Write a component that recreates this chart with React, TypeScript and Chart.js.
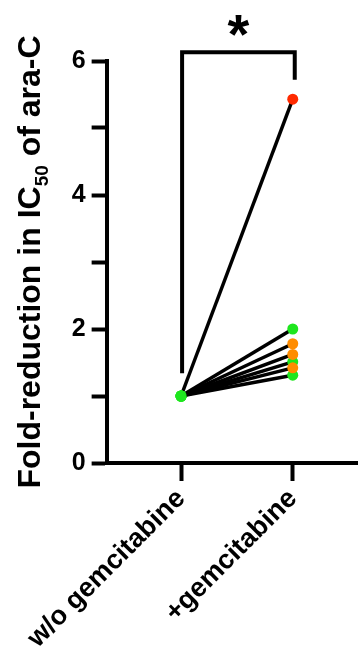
import React, { useEffect, useRef } from 'react';
import { Chart, registerables } from 'chart.js';

Chart.register(...registerables);

// ---- data ----
const categories = ['w/o gemcitabine', '+gemcitabine'];
const categoryX = [0, 1];
const withoutGem = [1, 1, 1, 1, 1, 1, 1];
const withGem = [1.42, 1.62, 1.78, 1.51, 1.31, 2.0, 5.43];
const endColors = ['#ff8c00', '#ff8c00', '#ff8c00', '#1ee61e', '#1ee61e', '#1ee61e', '#ff2a00'];
const startColor = '#1ee61e';
const yTicks = [0, 1, 2, 3, 4, 5, 6];
const yTitleParts = ['Fold-reduction in IC', '50', ' of ara-C'];
const sigLabel = '*';
const bracketTop = 6.13;
const bracketLeftBottom = 1.34;
const bracketRightBottom = 5.72;
const starBaseline = 6.12;

const FONT = '"Liberation Sans", Arial, sans-serif';

const overlayPlugin = {
  id: 'overlay',
  afterDraw(chart: any) {
    const { ctx, scales, chartArea } = chart;
    const xs = scales.x;
    const ys = scales.y;
    ctx.save();
    // bracket
    const xl = xs.getPixelForValue(categoryX[0]) + 1;
    const xr = xs.getPixelForValue(categoryX[1]) + 2;
    const yt = ys.getPixelForValue(bracketTop);
    ctx.strokeStyle = '#000';
    ctx.lineWidth = 4;
    ctx.lineCap = 'butt';
    ctx.lineJoin = 'miter';
    ctx.beginPath();
    ctx.moveTo(xl, ys.getPixelForValue(bracketLeftBottom));
    ctx.lineTo(xl, yt);
    ctx.lineTo(xr, yt);
    ctx.lineTo(xr, ys.getPixelForValue(bracketRightBottom));
    ctx.stroke();
    // asterisk
    ctx.fillStyle = '#000';
    ctx.font = `bold 56px ${FONT}`;
    ctx.textAlign = 'center';
    ctx.textBaseline = 'alphabetic';
    ctx.fillText(sigLabel, (xl + xr) / 2, ys.getPixelForValue(starBaseline));
    // y title
    const cy = (chartArea.top + chartArea.bottom) / 2;
    ctx.translate(40, cy);
    ctx.rotate(-Math.PI / 2);
    ctx.textAlign = 'left';
    const mainFont = `bold 32px ${FONT}`;
    const subFont = `bold 19px ${FONT}`;
    ctx.font = mainFont;
    const w1 = ctx.measureText(yTitleParts[0]).width;
    const w3 = ctx.measureText(yTitleParts[2]).width;
    ctx.font = subFont;
    const w2 = ctx.measureText(yTitleParts[1]).width;
    let x = -(w1 + w2 + w3) / 2;
    ctx.font = mainFont;
    ctx.fillText(yTitleParts[0], x, 0);
    x += w1;
    ctx.font = subFont;
    ctx.fillText(yTitleParts[1], x, 8);
    x += w2;
    ctx.font = mainFont;
    ctx.fillText(yTitleParts[2], x, 0);
    ctx.restore();
  },
};

export default function App() {
  const ref = useRef<HTMLCanvasElement | null>(null);
  useEffect(() => {
    if (!ref.current) return;
    const datasets = withGem.map((v, i) => ({
      data: [
        { x: categoryX[0], y: withoutGem[i] },
        { x: categoryX[1], y: v },
      ],
      showLine: true,
      borderColor: '#000',
      borderWidth: 3.5,
      pointRadius: 5.5,
      pointBorderWidth: 0,
      pointBackgroundColor: [startColor, endColors[i]],
      pointBorderColor: [startColor, endColors[i]],
    }));
    const chart = new Chart(ref.current, {
      type: 'scatter',
      data: { datasets },
      options: {
        animation: false,
        responsive: false,
        maintainAspectRatio: false,
        layout: { padding: { top: 61, right: -4, left: 0, bottom: 0 } },
        plugins: { legend: { display: false }, tooltip: { enabled: false } },
        scales: {
          x: {
            type: 'linear',
            min: -0.667,
            max: 1.58,
            afterBuildTicks: (s: any) => {
              s.ticks = categoryX.map((v) => ({ value: v }));
            },
            afterFit: (s: any) => {
              s.height = 196;
            },
            ticks: {
              autoSkip: false,
              minRotation: 45,
              maxRotation: 45,
              padding: 2,
              color: '#000',
              font: { family: FONT, size: 27, weight: 'bold' },
              callback: (v: any) => categories[categoryX.indexOf(Number(v))] ?? '',
            },
            grid: { drawOnChartArea: false, drawTicks: true, tickLength: 18, tickWidth: 4, tickColor: '#000' },
            border: { display: true, color: '#000', width: 4 },
          },
          y: {
            type: 'linear',
            min: 0,
            max: 6,
            afterBuildTicks: (s: any) => {
              s.ticks = yTicks.map((v) => ({ value: v }));
            },
            afterFit: (s: any) => {
              s.width = 103;
            },
            ticks: {
              padding: 6,
              color: '#000',
              font: { family: FONT, size: 25, weight: 'bold' },
              callback: (v: any) => (Number(v) % 2 === 0 ? String(v) : ''),
            },
            grid: { drawOnChartArea: false, drawTicks: true, tickLength: 15, tickWidth: 4, tickColor: '#000' },
            border: { display: true, color: '#000', width: 4 },
          },
        },
      },
      plugins: [overlayPlugin],
    } as any);
    return () => chart.destroy();
  }, []);
  return (
    <div style={{ position: 'fixed', left: 0, top: 0, width: 363, height: 659, background: '#fff' }}>
      <canvas ref={ref} width={363} height={659} style={{ display: 'block', width: 363, height: 659 }} />
    </div>
  );
}
